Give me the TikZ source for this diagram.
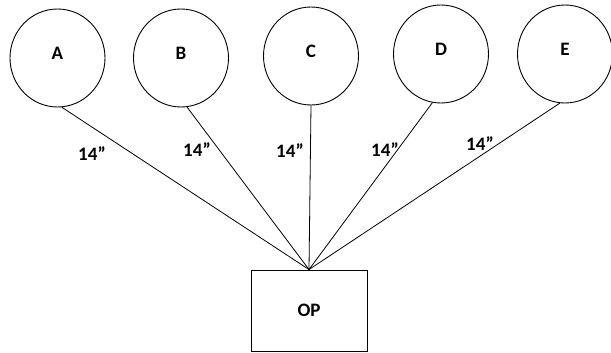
\documentclass[tikz,border=0pt]{standalone}
\usepackage{fontspec}
\setmainfont{Carlito}
\usetikzlibrary{shapes.geometric}
\begin{document}
\begin{tikzpicture}[x=1pt,y=-1pt,
  txt/.style={font=\fontsize{19}{22}\selectfont\bfseries},
  circ/.style={draw,ellipse,line width=0.9pt,minimum width=95pt,minimum height=98pt,inner sep=0pt,txt,text height=12pt,text depth=9pt},
  box/.style={draw,rectangle,line width=0.9pt,minimum width=116pt,minimum height=81pt,inner sep=0pt,txt},
  conn/.style={line width=0.8pt},
  dim/.style={txt,inner sep=0pt}]
\useasboundingbox (0,0) rectangle (611,353);
\node[circ] (A) at (57.5,58) {A};
\node[circ] (B) at (181,58) {B};
\node[circ] (C) at (311,56) {C};
\node[circ] (D) at (441,54) {D};
\node[circ] (E) at (565,54) {E};
\node[box] (OP) at (309,310.5) {OP};
\draw[conn] (A.-85) -- (OP.north);
\draw[conn] (B.-83) -- (OP.north);
\draw[conn] (C.-90) -- (OP.north);
\draw[conn] (D.-100) -- (OP.north);
\draw[conn] (E.-96) -- (OP.north);
\node[dim] (l1) at (92,154) {14”};
\node[dim] (l2) at (197,150) {14”};
\node[dim] (l3) at (290,151) {14”};
\node[dim] (l4) at (385,150) {14”};
\node[dim] (l5) at (480,144) {14”};
\end{tikzpicture}
\end{document}
